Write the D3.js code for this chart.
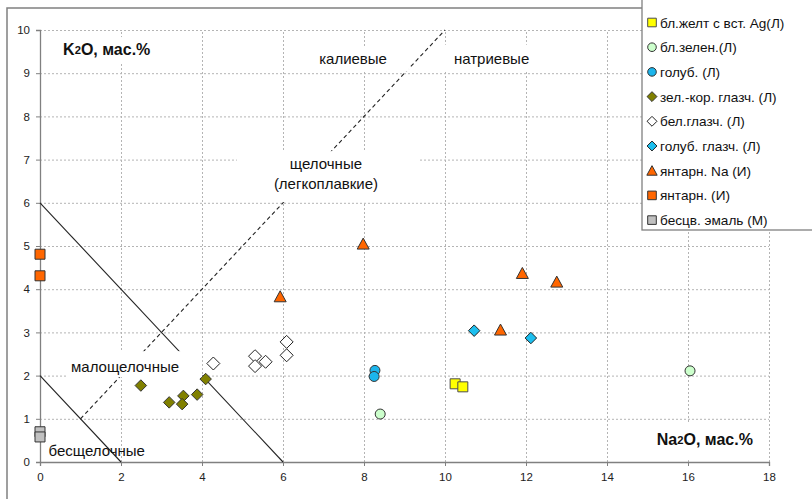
<!DOCTYPE html>
<html><head><meta charset="utf-8">
<script src="https://cdn.jsdelivr.net/npm/d3@7"></script>
<style>
html,body{margin:0;padding:0;background:#fff;}
svg{display:block;font-family:"Liberation Sans",Arial,sans-serif;}
</style></head>
<body><svg id="c" width="812" height="499"></svg>
<script>
// ---- data ----
const seriesNames = ["бл.желт с вст. Ag(Л)","бл.зелен.(Л)","голуб. (Л)","зел.-кор. глазч. (Л)","бел.глазч. (Л)","голуб. глазч. (Л)","янтарн. Na (И)","янтарн. (И)","бесцв. эмаль (М)"];
const yellowNa = [10.25, 10.44];             const yellowK = [1.81, 1.74];
const paleGreenNa = [8.40, 16.05];           const paleGreenK = [1.11, 2.11];
const blueNa = [8.27, 8.25];                 const blueK = [2.12, 1.98];
const oliveNa = [2.49, 3.19, 3.54, 3.51, 3.88, 4.09]; const oliveK = [1.77, 1.38, 1.53, 1.34, 1.56, 1.92];
const whiteNa = [4.28, 5.31, 5.31, 5.57, 6.09, 6.09]; const whiteK = [2.28, 2.45, 2.22, 2.32, 2.47, 2.78];
const cyanNa = [10.72, 12.12];               const cyanK = [3.04, 2.87];
const amberNaNa = [5.93, 7.98, 11.91, 11.37, 12.76]; const amberNaK = [3.83, 5.05, 4.37, 3.06, 4.17];
const amberNa = [0, 0];                      const amberK = [4.81, 4.31];
const enamelNa = [0, 0];                     const enamelK = [0.70, 0.58];
const xTicks = [0, 2, 4, 6, 8, 10, 12, 14, 16, 18];
const yTicks = [0, 1, 2, 3, 4, 5, 6, 7, 8, 9, 10];
// boundary lines (data coordinates)
const lineAlk6 = [[0, 6], [6, 0]];
const lineAlk2 = [[0, 2], [2, 0]];
const lineKNa = [[1, 1], [10, 10]];

// ---- styles ----
const series = [
  {na: yellowNa, k: yellowK, shape: "square", fill: "#FFFF00", stroke: "#4d4d4d"},
  {na: paleGreenNa, k: paleGreenK, shape: "circle", fill: "#CCFFCC", stroke: "#333"},
  {na: blueNa, k: blueK, shape: "circle", fill: "#1CB5EC", stroke: "#333"},
  {na: oliveNa, k: oliveK, shape: "diamond", fill: "#808000", stroke: "#333"},
  {na: whiteNa, k: whiteK, shape: "diamond", fill: "#FFFFFF", stroke: "#222", big: true},
  {na: cyanNa, k: cyanK, shape: "diamond", fill: "#1CBFEF", stroke: "#222"},
  {na: amberNaNa, k: amberNaK, shape: "triangle", fill: "#FF6600", stroke: "#333"},
  {na: amberNa, k: amberK, shape: "square", fill: "#FF6600", stroke: "#333"},
  {na: enamelNa, k: enamelK, shape: "square", fill: "#C0C0C0", stroke: "#333"}
];
series.forEach((s, i) => s.name = seriesNames[i]);

const svg = d3.select("#c");
const x = d3.scaleLinear().domain([0, 18]).range([40, 769]);
const y = d3.scaleLinear().domain([0, 10]).range([462, 30]);

function shapePath(shape, r, big) {
  if (shape === "square") return `M${-r},${-r}H${r}V${r}H${-r}Z`;
  if (shape === "circle") return d3.symbol(d3.symbolCircle, Math.PI * r * r)();
  if (shape === "diamond") { const d = big ? r * 1.3 : r * 1.15; return `M0,${-d}L${d},0L0,${d}L${-d},0Z`; }
  if (shape === "triangle") { const w = r * 1.2, h = r * 2.1; return `M0,${-h/2 - 0.5}L${w},${h/2}L${-w},${h/2}Z`; }
}

// chart-area border
svg.append("rect").attr("x", 7).attr("y", 8).attr("width", 830).attr("height", 520)
  .attr("fill", "#fff").attr("stroke", "#808080").attr("stroke-width", 1.5);

// gridlines
const grid = svg.append("g");
grid.selectAll(".hg").data(yTicks.filter(d => d > 0)).join("line")
  .attr("x1", x(0)).attr("x2", x(18)).attr("y1", d => y(d) + 0.5).attr("y2", d => y(d) + 0.5)
  .attr("stroke", "#b4b4b4").attr("stroke-dasharray", "2,2");
grid.selectAll(".vg").data(xTicks.filter(d => d > 0)).join("line")
  .attr("y1", y(0)).attr("y2", y(10)).attr("x1", d => x(d) + 0.5).attr("x2", d => x(d) + 0.5)
  .attr("stroke", "#b4b4b4").attr("stroke-dasharray", "2,2");

// axes
const xAxis = svg.append("g").attr("transform", `translate(0,${y(0)})`)
  .call(d3.axisBottom(x).tickValues(xTicks).tickSize(4).tickPadding(7).tickFormat(d3.format("d")));
const yAxis = svg.append("g").attr("transform", `translate(${x(0)},0)`)
  .call(d3.axisLeft(y).tickValues(yTicks).tickSize(4).tickPadding(6).tickFormat(d3.format("d")));
[xAxis, yAxis].forEach(a => {
  a.select(".domain").attr("stroke", "#808080").attr("stroke-width", 1.3);
  a.selectAll(".tick line").attr("stroke", "#808080");
  a.selectAll(".tick text").attr("fill", "#222").attr("font-size", 11.5).attr("font-family", "Liberation Sans, Arial, sans-serif");
});

// boundary lines
const lineGen = d3.line().x(d => x(d[0])).y(d => y(d[1]));
svg.append("path").attr("d", lineGen(lineAlk6)).attr("stroke", "#222").attr("stroke-width", 1.1).attr("fill", "none");
svg.append("path").attr("d", lineGen(lineAlk2)).attr("stroke", "#222").attr("stroke-width", 1.1).attr("fill", "none");
svg.append("path").attr("d", lineGen(lineKNa)).attr("stroke", "#222").attr("stroke-width", 1.1).attr("stroke-dasharray", "4,3").attr("fill", "none");

// markers
series.forEach(s => {
  svg.append("g").selectAll("path").data(s.na.map((v, i) => [v, s.k[i]])).join("path")
    .attr("transform", d => `translate(${x(d[0])},${y(d[1])})`)
    .attr("d", shapePath(s.shape, 5, s.big))
    .attr("fill", s.fill).attr("stroke", s.stroke).attr("stroke-width", 1);
});

// annotation labels with white boxes (pads: left, top, right, bottom)
const ann = svg.append("g");
function label(lines, cx, by, opts) {
  const g = ann.append("g");
  const rect = g.append("rect").attr("fill", "#fff");
  const t = g.append("text").attr("font-size", opts.size).attr("fill", "#111")
    .attr("font-weight", opts.bold ? "bold" : "normal")
    .attr("text-anchor", opts.anchor || "middle");
  const lh = opts.lh || 0;
  lines.forEach((ln, i) => {
    const tl = t.append("tspan").attr("x", x(cx)).attr("y", y(by) + i * lh);
    if (Array.isArray(ln)) {
      ln.forEach(p => {
        const sp = tl.append("tspan").text(p.t);
        if (p.small) sp.attr("font-size", opts.size * 0.7).attr("dy", -1);
        if (p.back) sp.attr("dy", 1);
      });
    } else tl.text(ln);
  });
  const bb = t.node().getBBox();
  const p = opts.pad;
  if (opts.box !== false) {
    rect.attr("x", bb.x - p[0]).attr("y", bb.y - p[1]).attr("width", bb.width + p[0] + p[2]).attr("height", bb.height + p[1] + p[3]);
  } else rect.remove();
}
label(["калиевые"], 7.73, 9.22, {size: 15, pad: [25, 3, 22, 5]});
label(["натриевые"], 11.15, 9.22, {size: 15, pad: [16, 5, 21, 5]});
label(["щелочные", "(легкоплавкие)"], 7.06, 6.78, {size: 15, lh: 20, pad: [37, 4, 41, 10]});
label(["малощелочные"], 2.10, 2.08, {size: 15, pad: [3, 7, 23, 2]});
label(["бесщелочные"], 1.40, 0.15, {size: 15, box: false, pad: [0,0,0,0]});
label([[{t: "K"}, {t: "2", small: true}, {t: "O, мас.%", back: true}]], 0.57, 9.42, {size: 16, bold: true, anchor: "start", pad: [8, 4, 10, 4]});
label([[{t: "Na"}, {t: "2", small: true}, {t: "O, мас.%", back: true}]], 15.23, 0.39, {size: 16, bold: true, anchor: "start", pad: [40, 8, 8, 12]});

// legend
const leg = svg.append("g");
leg.append("rect").attr("x", 642).attr("y", -2).attr("width", 190).attr("height", 232)
  .attr("fill", "#fff").attr("stroke", "#808080").attr("stroke-width", 1.3);
series.forEach((s, i) => {
  const cy = 22.5 + i * 24.7;
  leg.append("path").attr("transform", `translate(652,${cy})`).attr("d", shapePath(s.shape, 4.3, false))
    .attr("fill", s.fill).attr("stroke", s.stroke).attr("stroke-width", 1);
  leg.append("text").attr("x", 660).attr("y", cy + 5).attr("font-size", 13.6).attr("fill", "#111").text(s.name);
});
</script></body></html>
